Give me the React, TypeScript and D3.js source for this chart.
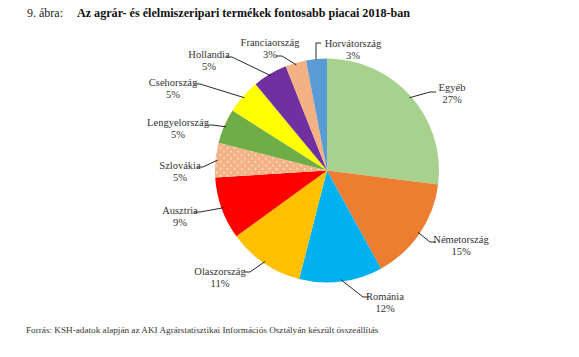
import React from "react";
import * as d3 from "d3";

const categories = [
  "Egyéb",
  "Németország",
  "Románia",
  "Olaszország",
  "Ausztria",
  "Szlovákia",
  "Lengyelország",
  "Csehország",
  "Hollandia",
  "Franciaország",
  "Horvátország",
];
const values = [27, 15, 12, 11, 9, 5, 5, 5, 5, 3, 3];
const percentLabels = ["27%", "15%", "12%", "11%", "9%", "5%", "5%", "5%", "5%", "3%", "3%"];
const colors = [
  "#A9D18E",
  "#ED7D31",
  "#00B0F0",
  "#FFC000",
  "#FF0000",
  "url(#dots)",
  "#70AD47",
  "#FFFF00",
  "#7030A0",
  "#F4B183",
  "#5B9BD5",
];

// label layout: text center x, first line baseline y, leader elbow point, side of text
const labelLayout = [
  { x: 452, y: 91, elbow: [430, 92], side: "left" },
  { x: 461, y: 243, elbow: [430, 242], side: "left" },
  { x: 385, y: 300, elbow: [363, 297], side: "left" },
  { x: 220, y: 275, elbow: [250, 272], side: "right" },
  { x: 180, y: 214, elbow: [200, 212], side: "right" },
  { x: 180, y: 169, elbow: [203, 167], side: "right" },
  { x: 178, y: 126, elbow: [212, 125], side: "right" },
  { x: 173, y: 86, elbow: [200, 84], side: "right" },
  { x: 209, y: 58, elbow: [232, 57], side: "right" },
  { x: 270, y: 46, elbow: [282, 56], side: "right" },
  { x: 353, y: 47, elbow: [318, 43], side: "left" },
];

const W = 579;
const H = 357;
const cx = 327;
const cy = 170.5;
const R = 112;

export default function App() {
  const data = categories.map((c, i) => ({ c, v: values[i], i }));
  const pie = d3.pie<any>().value((d) => d.v).sort(null);
  const arcs = pie(data);
  const arc = d3.arc<any>().innerRadius(0).outerRadius(R);
  const font = "Liberation Serif, Times New Roman, serif";

  return (
    <svg
      width={W}
      height={H}
      style={{ position: "absolute", left: 0, top: 0, background: "#fff" }}
    >
      <defs>
        <pattern id="dots" width="7" height="7" patternUnits="userSpaceOnUse">
          <rect width="7" height="7" fill="#F4B183" />
          <circle cx="2" cy="2" r="0.8" fill="#ffffff" />
          <circle cx="5.5" cy="5.5" r="0.8" fill="#ffffff" />
        </pattern>
      </defs>
      <text x={27} y={17} fontFamily={font} fontSize={12} fill="#222">
        9. ábra:
      </text>
      <text x={77} y={17} fontFamily={font} fontSize={12.1} fontWeight="bold" fill="#111">
        Az agrár- és élelmiszeripari termékek fontosabb piacai 2018-ban
      </text>
      <g transform={`translate(${cx},${cy})`}>
        {arcs.map((a, i) => (
          <path key={i} d={arc(a) as string} fill={colors[i]} />
        ))}
      </g>
      {arcs.map((a, i) => {
        const L = labelLayout[i];
        const mid = (a.startAngle + a.endAngle) / 2;
        const px = cx + Math.sin(mid) * (R - 2);
        const py = cy - Math.cos(mid) * (R - 2);
        const [ex, ey] = L.elbow;
        let pts: [number, number][];
        if (i === 10) {
          pts = [
            [ex + 3, ey],
            [ex - 2, ey],
            [ex - 2, cy - R + 1],
          ];
        } else {
          const tx = L.side === "left" ? ex + 6 : ex - 6;
          pts = [
            [px, py],
            [ex, ey],
            [tx, ey],
          ];
        }
        return (
          <g key={"l" + i}>
            <polyline
              points={pts.map((p) => p.join(",")).join(" ")}
              fill="none"
              stroke="#111"
              strokeWidth={0.9}
            />
            <text
              x={L.x}
              y={L.y}
              textAnchor="middle"
              fontFamily={font}
              fontSize={10.5}
              fill="#333"
            >
              {categories[i]}
            </text>
            <text
              x={L.x}
              y={L.y + 12}
              textAnchor="middle"
              fontFamily={font}
              fontSize={10.5}
              fill="#333"
            >
              {percentLabels[i]}
            </text>
          </g>
        );
      })}
      <text x={26} y={333} fontFamily={font} fontSize={9.2} fill="#333">
        Forrás: KSH-adatok alapján az AKI Agrárstatisztikai Információs Osztályán készült összeállítás
      </text>
    </svg>
  );
}
